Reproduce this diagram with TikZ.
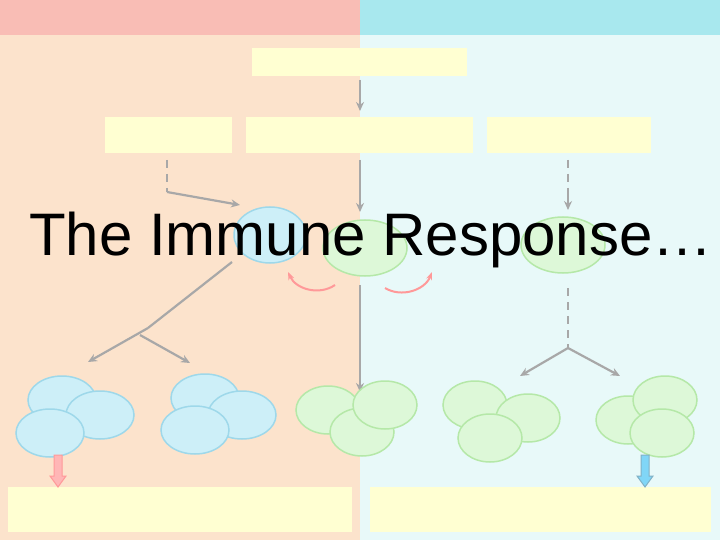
\documentclass[tikz,border=0pt]{standalone}
\usepackage{fontspec}
\setmainfont{Liberation Sans}
\usetikzlibrary{arrows.meta}
\definecolor{peach}{HTML}{FCE3CC}
\definecolor{topl}{HTML}{F9BDB5}
\definecolor{aqua}{HTML}{E8F9F9}
\definecolor{topr}{HTML}{A8E8EE}
\definecolor{ybox}{HTML}{FFFFD2}
\definecolor{gline}{HTML}{A8A8A8}
\definecolor{bcell}{HTML}{CDEFF8}
\definecolor{bedge}{HTML}{9ED8EA}
\definecolor{gcell}{HTML}{DDF8D8}
\definecolor{gedge}{HTML}{B5E8A8}
\begin{document}
\begin{tikzpicture}[x=1pt,y=-1pt,
  ybx/.style={fill=ybox,draw=none},
  gl/.style={draw=gline,line width=2.2pt},
  ga/.style={gl,-{Stealth[length=9pt,width=8pt]}},
  gd/.style={gl,dash pattern=on 8pt off 6pt},
  blue/.style={fill=bcell,draw=bedge,line width=1.5pt},
  green/.style={fill=gcell,draw=gedge,line width=1.5pt}]
\useasboundingbox (0,0) rectangle (720,540);
\fill[peach] (0,0) rectangle (360,540);
\fill[aqua] (360,0) rectangle (720,540);
\fill[topl] (0,0) rectangle (360,35);
\fill[topr] (360,0) rectangle (720,35);
% boxes
\fill[ybx] (252,48) rectangle (467,76);
\fill[ybx] (105,117) rectangle (232,153);
\fill[ybx] (246,117) rectangle (473,153);
\fill[ybx] (487,117) rectangle (651,153);
\fill[ybx] (8,487) rectangle (352,532);
\fill[ybx] (370,487) rectangle (711,532);
% arrows
\coordinate (t1) at (360,80); \coordinate (t2) at (360,111);
\draw[ga] (t1) -- (t2);
\draw[gd] (167,160) -- (167,192);
\draw[ga] (167,192) -- (240,205);
\draw[ga] (360,160) -- (360,212);
\draw[gd] (568,160) -- (568,190);
\draw[ga] (568,190) -- (568,210);
% cells middle row
\draw[blue] (270,235) ellipse (36 and 28);
\draw[green] (365,248) ellipse (42 and 28);
\draw[green] (563,245) ellipse (42 and 28);
% pink curves
\draw[draw=pink!80!red,line width=2pt,-{Stealth[length=8pt]}] (335,285) to[bend left=50] (288,272);
\draw[draw=pink!80!red,line width=2pt,-{Stealth[length=8pt]}] (385,288) to[bend right=50] (432,272);
% branches
\draw[gl] (232,262) -- (148,328);
\draw[ga] (148,328) -- (88,362);
\draw[ga] (140,335) -- (190,363);
\draw[ga] (360,285) -- (360,392);
\draw[gd] (568,288) -- (568,348);
\draw[ga] (568,348) -- (520,376);
\draw[ga] (568,348) -- (620,376);
% clusters
\draw[blue] (62,400) ellipse (34 and 24);
\draw[blue] (100,415) ellipse (34 and 24);
\draw[blue] (50,433) ellipse (34 and 24);
\draw[blue] (205,398) ellipse (34 and 24);
\draw[blue] (242,415) ellipse (34 and 24);
\draw[blue] (195,430) ellipse (34 and 24);
\draw[green] (328,410) ellipse (32 and 24);
\draw[green] (362,432) ellipse (32 and 24);
\draw[green] (385,405) ellipse (32 and 24);
\draw[green] (475,405) ellipse (32 and 24);
\draw[green] (528,418) ellipse (32 and 24);
\draw[green] (490,438) ellipse (32 and 24);
\draw[green] (628,420) ellipse (32 and 24);
\draw[green] (665,400) ellipse (32 and 24);
\draw[green] (662,433) ellipse (32 and 24);
\draw[fill=pink!70!red!60,draw=red!40,line width=1pt] (54,455) -- (62,455) -- (62,476) -- (66,476) -- (58,487) -- (50,476) -- (54,476) -- cycle;
\draw[fill=cyan!50,draw=cyan!60!black!60,line width=1pt] (641,455) -- (649,455) -- (649,476) -- (653,476) -- (645,487) -- (637,476) -- (641,476) -- cycle;
\node[font=\fontsize{60}{64}\selectfont,inner sep=0pt,anchor=base] (title) at (371,255) {The Immune Response…};
\end{tikzpicture}
\end{document}
